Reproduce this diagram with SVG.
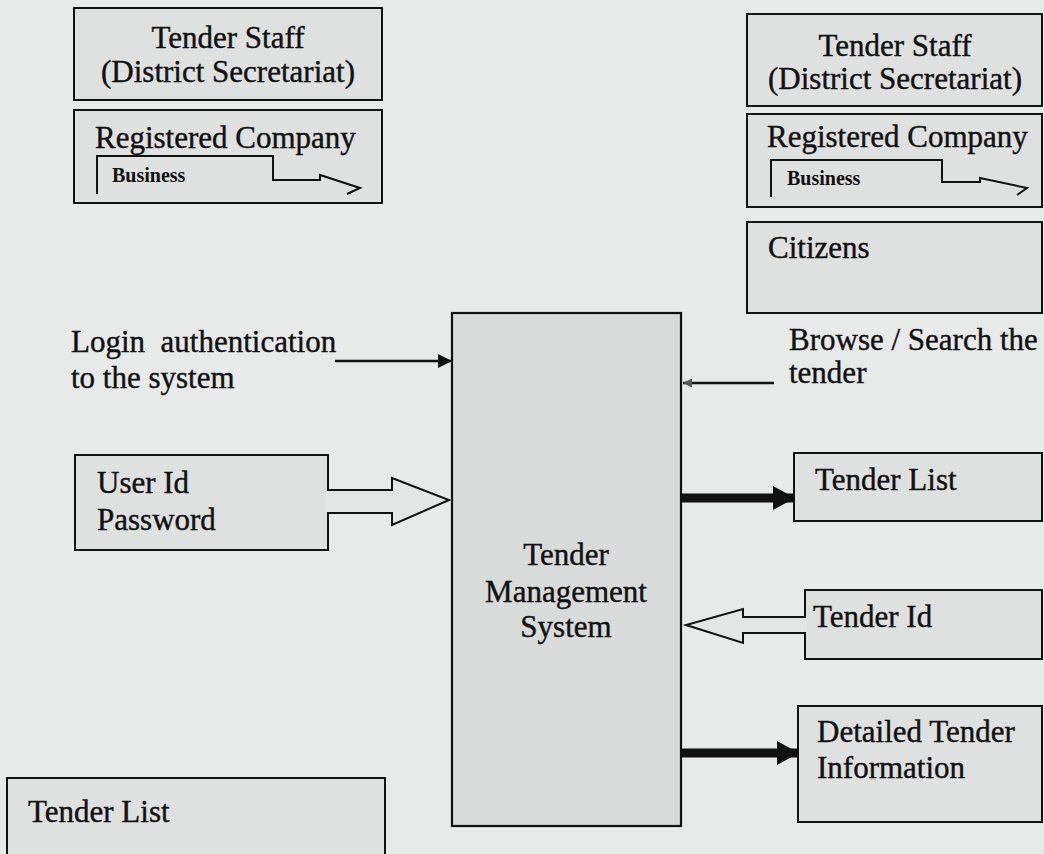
<svg xmlns="http://www.w3.org/2000/svg" width="1044" height="854" viewBox="0 0 1044 854">
<defs>
<style>
.bg{fill:#e8e9e9}
.box{fill:#dfe0e0;stroke:#111;stroke-width:2}
.main{fill:#d9dada;stroke:#111;stroke-width:2.2}
.t{font-family:"Liberation Serif","Times New Roman",serif;font-size:31px;fill:#111;stroke:#111;stroke-width:0.4;white-space:pre}
.c{text-anchor:middle}
.b{font-family:"Liberation Serif","Times New Roman",serif;font-size:20px;font-weight:bold;fill:#111}
.ln{fill:none;stroke:#111;stroke-width:2.5}
.thick{fill:none;stroke:#111;stroke-width:9}
.holl{fill:#e4e5e5;stroke:none}
.hollo{fill:none;stroke:#111;stroke-width:2;stroke-linejoin:miter}
.bent{fill:none;stroke:#111;stroke-width:2}
</style>
<marker id="ah" markerUnits="userSpaceOnUse" markerWidth="14" markerHeight="14" refX="14" refY="7" orient="auto">
<path d="M0,0 L14,7 L0,14 z" fill="#111"/>
</marker>
<marker id="ahs" markerUnits="userSpaceOnUse" markerWidth="9" markerHeight="9" refX="9" refY="4.5" orient="auto">
<path d="M0,0 L9,4.5 L0,9 z" fill="#555"/>
</marker>
<marker id="big" markerUnits="userSpaceOnUse" markerWidth="22" markerHeight="24" refX="21" refY="12" orient="auto">
<path d="M0,0 L22,12 L0,24 z" fill="#111"/>
</marker>
</defs>
<rect class="bg" x="0" y="0" width="1044" height="854"/>

<g id="staff-left">
<rect class="box" x="74" y="8" width="308" height="92"/>
<text class="t c" x="228" y="48">Tender Staff</text>
<text class="t c" x="228" y="82">(District Secretariat)</text>
</g>
<g id="company-left">
<rect class="box" x="74" y="110" width="308" height="93"/>
<text class="t" x="95" y="148">Registered Company</text>
<polyline class="bent" points="97,194 97,156 273,156 273,180 320,180 320,175 360,188 347,194"/>
<text class="b" x="112" y="182">Business</text>
</g>

<g id="staff-right">
<rect class="box" x="747" y="14" width="295" height="92"/>
<text class="t c" x="895" y="56">Tender Staff</text>
<text class="t c" x="895" y="89">(District Secretariat)</text>
</g>
<g id="company-right">
<rect class="box" x="747" y="114" width="295" height="93"/>
<text class="t" x="767" y="147">Registered Company</text>
<polyline class="bent" points="771,197 771,160 942,160 942,182 980,182 980,178 1027,188 1017,195"/>
<text class="b" x="787" y="185">Business</text>
</g>
<g id="citizens">
<rect class="box" x="747" y="222" width="295" height="91"/>
<text class="t" x="768" y="258">Citizens</text>
</g>

<g id="system">
<rect class="main" x="452" y="313" width="229" height="513"/>
<text class="t c" x="566" y="565">Tender</text>
<text class="t c" x="566" y="602">Management</text>
<text class="t c" x="566" y="637">System</text>
</g>

<g id="login-label">
<text class="t" x="71" y="352" xml:space="preserve">Login  authentication</text>
<text class="t" x="71" y="388">to the system</text>
</g>
<g id="browse-label">
<text class="t" x="789" y="350">Browse / Search the</text>
<text class="t" x="789" y="383">tender</text>
</g>

<g id="userid">
<rect class="box" x="75" y="455" width="253" height="95"/>
<text class="t" x="97" y="493">User Id</text>
<text class="t" x="97" y="530">Password</text>
</g>
<g id="tenderlist-right">
<rect class="box" x="794" y="453" width="248" height="68"/>
<text class="t" x="815" y="490">Tender List</text>
</g>
<g id="tenderid">
<rect class="box" x="805" y="590" width="237" height="69"/>
<text class="t" x="813" y="627">Tender Id</text>
</g>
<g id="detailed">
<rect class="box" x="798" y="706" width="244" height="116"/>
<text class="t" x="817" y="742">Detailed Tender</text>
<text class="t" x="817" y="778">Information</text>
</g>
<g id="tenderlist-left">
<rect class="box" x="7" y="778" width="378" height="84"/>
<text class="t" x="28" y="822">Tender List</text>
</g>

<g id="connectors">
<line class="ln" x1="335" y1="361" x2="452" y2="361" marker-end="url(#ah)"/>
<line class="ln" x1="774" y1="383" x2="683" y2="383" stroke-width="2.5" marker-end="url(#ahs)"/>
<line class="thick" x1="682" y1="498" x2="794" y2="498" marker-end="url(#big)"/>
<line class="thick" x1="682" y1="753" x2="798" y2="753" marker-end="url(#big)"/>
<path class="holl" d="M326,491 L392,491 L392,478 L449,500 L392,525 L392,512 L326,512 z"/>
<polyline class="hollo" points="328,490 392,490 392,478 449,500 392,525 392,513 328,513"/>
<path class="holl" d="M807,618 L743,618 L743,609 L686,625 L743,643 L743,632 L807,632 z"/>
<polyline class="hollo" points="805,617 743,617 743,609 686,625 743,643 743,633 805,633"/>
</g>
</svg>
